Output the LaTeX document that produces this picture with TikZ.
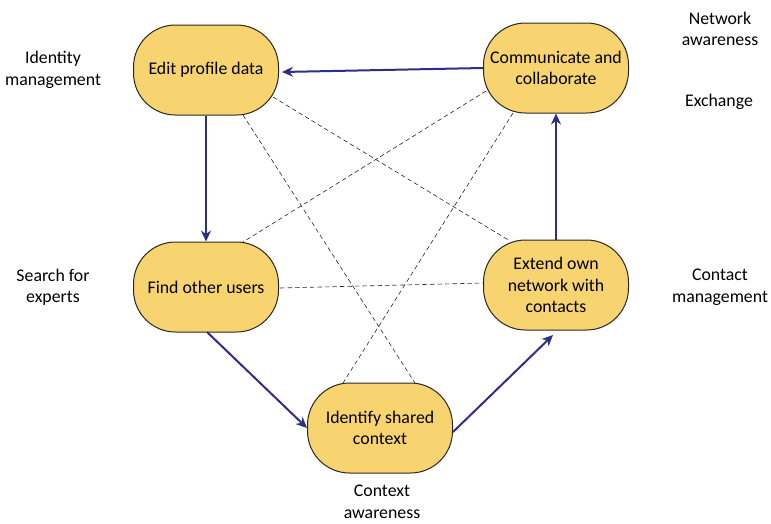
\documentclass[tikz,border=0pt]{standalone}
\usepackage{fontspec}
\setmainfont{Carlito}
\usetikzlibrary{arrows.meta}
\definecolor{boxfill}{RGB}{247,212,112}
\definecolor{boxline}{RGB}{40,40,40}
\definecolor{flow}{RGB}{46,46,135}
\begin{document}
\begin{tikzpicture}[x=1pt,y=-1pt,
  every node/.style={font=\fontsize{17.8}{21.5}\selectfont},
  stepbox/.style={draw=boxline,line width=1pt,fill=boxfill,rounded corners=42pt,
    minimum width=145pt,minimum height=90pt,align=center,inner sep=2pt},
  sidelabel/.style={align=center,inner sep=0pt},
  flowarrow/.style={draw=flow,line width=2pt,-{Stealth[length=11pt,width=10pt]}},
  link/.style={draw=black!85,line width=0.6pt,dash pattern=on 4.5pt off 3pt}]
\useasboundingbox (0,0) rectangle (771,523);

% activity boxes
\node[stepbox] (edit)  at (206,70)  {Edit profile data};
\node[stepbox] (comm)  at (556,68)  {Communicate and\\collaborate};
\node[stepbox] (find)  at (206,287) {Find other users};
\node[stepbox] (ext)   at (556,285) {Extend own\\network with\\contacts};
\node[stepbox] (ident) at (380,428) {Identify shared\\context};

% side labels
\node[sidelabel] (lidm)  at (53,70)   {Identity\\management};
\node[sidelabel] (lnet)  at (720,29)  {Network\\awareness};
\node[sidelabel] (lexch) at (719,102) {Exchange};
\node[sidelabel] (lsrch) at (53,287)  {Search for\\experts};
\node[sidelabel] (lcont) at (720,287) {Contact\\management};
\node[sidelabel] (lctx)  at (382,502) {Context\\awareness};

% dashed cross links
\draw[link] ([shift={(67,27)}]edit.center) -- ([shift={(-46,-44)}]ext.center);
\draw[link] ([shift={(37,45)}]edit.center) -- ([shift={(35,-45)}]ident.center);
\draw[link] ([shift={(-70,23)}]comm.center) -- ([shift={(37,-45)}]find.center);
\draw[link] ([shift={(-43,45)}]comm.center) -- ([shift={(-37,-45)}]ident.center);
\draw[link] ([shift={(74,1)}]find.center) -- ([shift={(-72,-2)}]ext.center);

% main cycle
\draw[flowarrow] (comm.west) -- ([shift={(3,2)}]edit.east);
\draw[flowarrow] (edit.south) -- (find.north);
\draw[flowarrow] ([shift={(1,45)}]find.center) -- (ident.west);
\draw[flowarrow] ([shift={(0,4)}]ident.east) -- ([shift={(-3,50)}]ext.center);
\draw[flowarrow] (ext.north) -- (comm.south);
\end{tikzpicture}
\end{document}
